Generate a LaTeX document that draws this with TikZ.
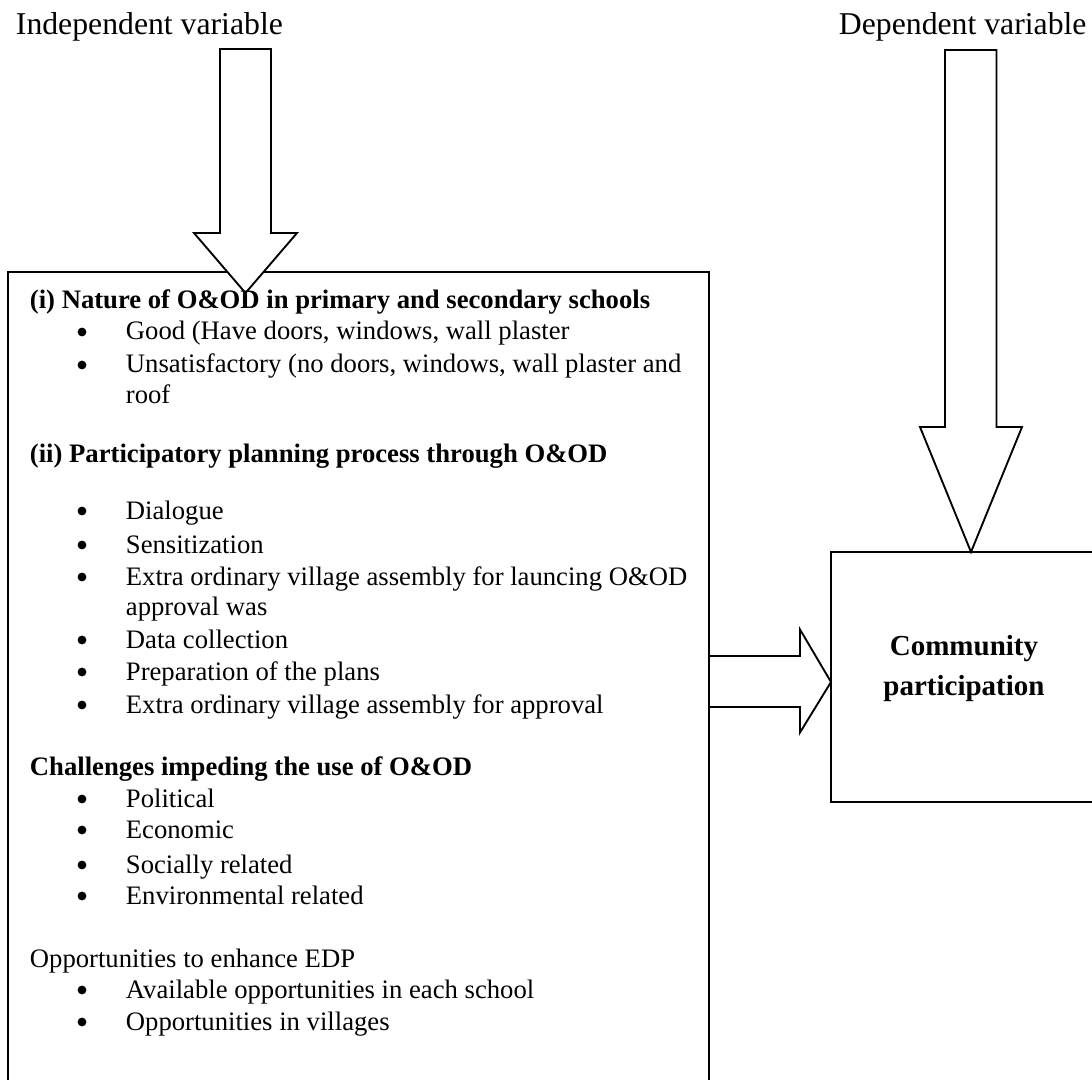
\documentclass[tikz,border=0pt]{standalone}
\usepackage{fontspec}
\setmainfont{Liberation Serif}
\begin{document}
\begin{tikzpicture}[x=0.75pt,y=-0.75pt,line width=1.4pt,
  body/.style={anchor=base west,inner sep=0pt,font={\fontsize{20}{24}\selectfont}},
  head/.style={anchor=base west,inner sep=0pt,font={\fontsize{20}{24}\selectfont\bfseries}},
  bul/.style={circle,fill=black,draw=none,inner sep=0pt,minimum size=6.6pt},
  toplabel/.style={anchor=base west,inner sep=0pt,font={\fontsize{23.8}{28}\selectfont}},
  cplabel/.style={anchor=base,inner sep=0pt,font={\fontsize{21.75}{26}\selectfont\bfseries}},
  framebox/.style={draw=black,fill=none,outer sep=0pt,inner sep=0pt,anchor=north west},
  fatarrow/.style={draw=black,fill=white,line join=miter}]
\useasboundingbox (0,0) rectangle (1092,1080);
\clip (0,0) rectangle (1092,1080);

% horizontal fat arrow (drawn first so the box edge stays on top)
\draw[fatarrow] (709,656) -- (800,656) -- (800,629.5) -- (831,682) -- (800,732.5)
  -- (800,707) -- (709,707);

% boxes
\node[framebox,minimum width=525.75pt,minimum height=621pt] (ivbox) at (8,272) {};
\node[framebox,minimum width=209.25pt,minimum height=187.5pt] (dvbox) at (831,552) {};

% top labels
\node[toplabel] (ivlabel) at (15,35) {Independent variable};
\node[toplabel] (dvlabel) at (838,35) {Dependent variable};

% vertical fat arrows
\draw[fatarrow] (220,49) -- (271,49) -- (271,233) -- (297,233) -- (245.5,293)
  -- (194,233) -- (220,233) -- cycle;
\draw[fatarrow] (945,50) -- (996.5,50) -- (996.5,427) -- (1022,427) -- (971,552)
  -- (920,427) -- (945,427) -- cycle;

% box text
\node[head] (h1) at (29,309) {(i) Nature of O\&OD in primary and secondary schools};
\node[bul] (b1) at (82,332) {};
\node[body] (t1) at (125,340) {Good (Have doors, windows, wall plaster};
\node[bul] (b2) at (82,365) {};
\node[body] (t2) at (125,373) {Unsatisfactory (no doors, windows, wall plaster and};
\node[body] (t2b) at (125,403) {roof};

\node[head] (h2) at (29,462) {(ii) Participatory planning process through O\&OD};
\node[bul] (b3) at (82,511) {};
\node[body] (t3) at (125,519) {Dialogue};
\node[bul] (b4) at (82,545) {};
\node[body] (t4) at (125,553) {Sensitization};
\node[bul] (b5) at (82,577) {};
\node[body] (t5) at (125,585) {Extra ordinary village assembly for launcing O\&OD};
\node[body] (t5b) at (125,615) {approval was};
\node[bul] (b6) at (82,640) {};
\node[body] (t6) at (125,648) {Data collection};
\node[bul] (b7) at (82,672) {};
\node[body] (t7) at (125,680) {Preparation of the plans};
\node[bul] (b8) at (82,705) {};
\node[body] (t8) at (125,713) {Extra ordinary village assembly for approval};

\node[head] (h3) at (29,775) {Challenges impeding the use of O\&OD};
\node[bul] (b9) at (82,799) {};
\node[body] (t9) at (125,807) {Political};
\node[bul] (b10) at (82,830) {};
\node[body] (t10) at (125,838) {Economic};
\node[bul] (b11) at (82,865) {};
\node[body] (t11) at (125,873) {Socially related};
\node[bul] (b12) at (82,896) {};
\node[body] (t12) at (125,904) {Environmental related};

\node[body] (h4) at (29,967) {Opportunities to enhance EDP};
\node[bul] (b13) at (82,990) {};
\node[body] (t13) at (125,998) {Available opportunities in each school};
\node[bul] (b14) at (82,1022) {};
\node[body] (t14) at (125,1030) {Opportunities in villages};

% dependent variable box text
\node[cplabel] (cp1) at (964,655) {Community};
\node[cplabel] (cp2) at (964,695) {participation};
\end{tikzpicture}
\end{document}
